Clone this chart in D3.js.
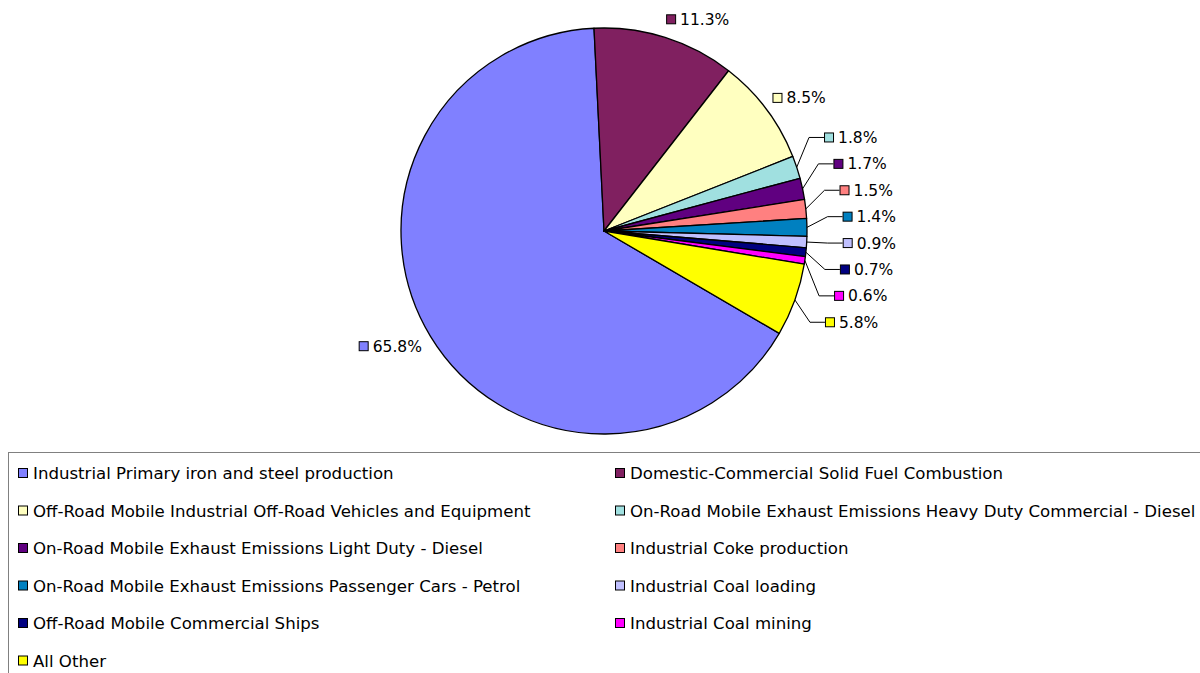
<!DOCTYPE html>
<html>
<head>
<meta charset="utf-8">
<script src="https://cdn.jsdelivr.net/npm/d3@7"></script>
<style>
html,body{margin:0;padding:0;background:#fff;}
svg{display:block;font-family:"DejaVu Sans",Verdana,sans-serif;}
</style>
</head>
<body>
<svg id="chart" width="1200" height="673"></svg>
<script>
const categories = [
  "Industrial Primary iron and steel production",
  "Domestic-Commercial Solid Fuel Combustion",
  "Off-Road Mobile Industrial Off-Road Vehicles and Equipment",
  "On-Road Mobile Exhaust Emissions Heavy Duty Commercial - Diesel",
  "On-Road Mobile Exhaust Emissions Light Duty - Diesel",
  "Industrial Coke production",
  "On-Road Mobile Exhaust Emissions Passenger Cars - Petrol",
  "Industrial Coal loading",
  "Off-Road Mobile Commercial Ships",
  "Industrial Coal mining",
  "All Other"
];
const values = [65.8, 11.3, 8.5, 1.8, 1.7, 1.5, 1.4, 0.9, 0.7, 0.6, 5.8];
const colors = ["#8080FF","#802060","#FFFFC0","#A0E0E0","#600080","#FF8080","#0080C0","#C0C0FF","#000080","#FF00FF","#FFFF00"];

const svg = d3.select("#chart");
const W = 1200, H = 673;
const cx = 604, cy = 231, r = 203;
const startDeg = 120.3;
const a0 = startDeg * Math.PI / 180;

const data = values.map((v, i) => ({name: categories[i], value: v, color: colors[i], i}));
const pie = d3.pie().sort(null).value(d => d.value).startAngle(a0).endAngle(a0 + 2 * Math.PI);
const arcs = pie(data);
const arc = d3.arc().innerRadius(0).outerRadius(r);

const g = svg.append("g").attr("transform", `translate(${cx},${cy})`);
g.selectAll("path.slice").data(arcs).enter().append("path")
  .attr("class", "slice")
  .attr("d", arc)
  .attr("fill", d => d.data.color)
  .attr("stroke", "#000")
  .attr("stroke-width", 1.3)
  .attr("stroke-linejoin", "round");

const fmt = d3.format(".1f");
const labelFont = 15.5;
const mk = 10, gap = 4, lh = 18;

const measure = svg.append("text").attr("font-size", labelFont).attr("visibility", "hidden");
function textW(s) { measure.text(s); return measure.node().getComputedTextLength(); }

const labels = arcs.map(a => {
  const mid = (a.startAngle + a.endAngle) / 2;
  const txt = fmt(a.data.value) + "%";
  return {a, mid, txt, w: mk + gap + textW(txt), leader: a.data.value < 8};
});
measure.remove();

// Direct labels
labels.filter(l => !l.leader).forEach(l => {
  const s = Math.sin(l.mid), c = Math.cos(l.mid);
  const px = cx + (r + 10) * s, py = cy - (r + 10) * c;
  l.x = s >= 0 ? px - 2 : px - l.w;
  l.y = py - c * lh / 2;
});

// Leader labels: cluster layout on the right side
const spacing = 26.4;
const lead = labels.filter(l => l.leader).map(l => {
  l.desired = cy - (r + 30) * Math.cos(l.mid);
  return l;
}).sort((p, q) => p.desired - q.desired);
let clusters = lead.map(l => ({items: [l]}));
function clusterPos(cl) {
  const n = cl.items.length;
  const m = d3.mean(cl.items, d => d.desired);
  cl.top = m - (n - 1) * spacing / 2;
  cl.bottom = cl.top + (n - 1) * spacing;
}
clusters.forEach(clusterPos);
let merged = true;
while (merged) {
  merged = false;
  for (let k = 0; k < clusters.length - 1; k++) {
    if (clusters[k].bottom + spacing > clusters[k + 1].top) {
      clusters[k].items = clusters[k].items.concat(clusters[k + 1].items);
      clusters.splice(k + 1, 1);
      clusterPos(clusters[k]);
      merged = true;
      break;
    }
  }
}
clusters.forEach(cl => cl.items.forEach((l, j) => { l.y = cl.top + j * spacing - 1; }));
const R = 240;
lead.forEach(l => {
  const dy = l.y - cy;
  l.x = cx + Math.sqrt(Math.max(0, R * R - dy * dy)) - 1;
  const ax = cx + r * Math.sin(l.mid), ay = cy - r * Math.cos(l.mid);
  svg.append("polyline")
    .attr("points", `${ax},${ay} ${l.x - 15},${l.y} ${l.x},${l.y}`)
    .attr("fill", "none").attr("stroke", "#000").attr("stroke-width", 1);
});

// Draw labels
labels.forEach(l => {
  const lg = svg.append("g");
  lg.append("rect")
    .attr("x", l.x + 0.5).attr("y", l.y - mk / 2 + 0.5)
    .attr("width", mk - 1).attr("height", mk - 1)
    .attr("fill", l.a.data.color).attr("stroke", "#000").attr("stroke-width", 1);
  lg.append("text")
    .attr("x", l.x + mk + gap).attr("y", l.y + 5.5)
    .attr("font-size", labelFont).attr("fill", "#000")
    .text(l.txt);
});

// Legend
const legX = 8, legY = 452;
svg.append("rect").attr("x", legX + 0.5).attr("y", legY + 0.5)
  .attr("width", W).attr("height", H).attr("fill", "none")
  .attr("stroke", "#808080").attr("stroke-width", 1);
const colX = [18, 615];
const rowY0 = 473, rowH = 37.5;
const leg = svg.append("g");
data.forEach((d, i) => {
  const col = i % 2, row = Math.floor(i / 2);
  const x = colX[col], y = rowY0 + row * rowH;
  leg.append("rect")
    .attr("x", x + 0.5).attr("y", y - 5 + 0.5)
    .attr("width", 9).attr("height", 9)
    .attr("fill", d.color).attr("stroke", "#000").attr("stroke-width", 1);
  leg.append("text")
    .attr("x", x + 15).attr("y", y + 6)
    .attr("font-size", 16.6).attr("fill", "#000")
    .text(d.name);
});
</script>
</body>
</html>
